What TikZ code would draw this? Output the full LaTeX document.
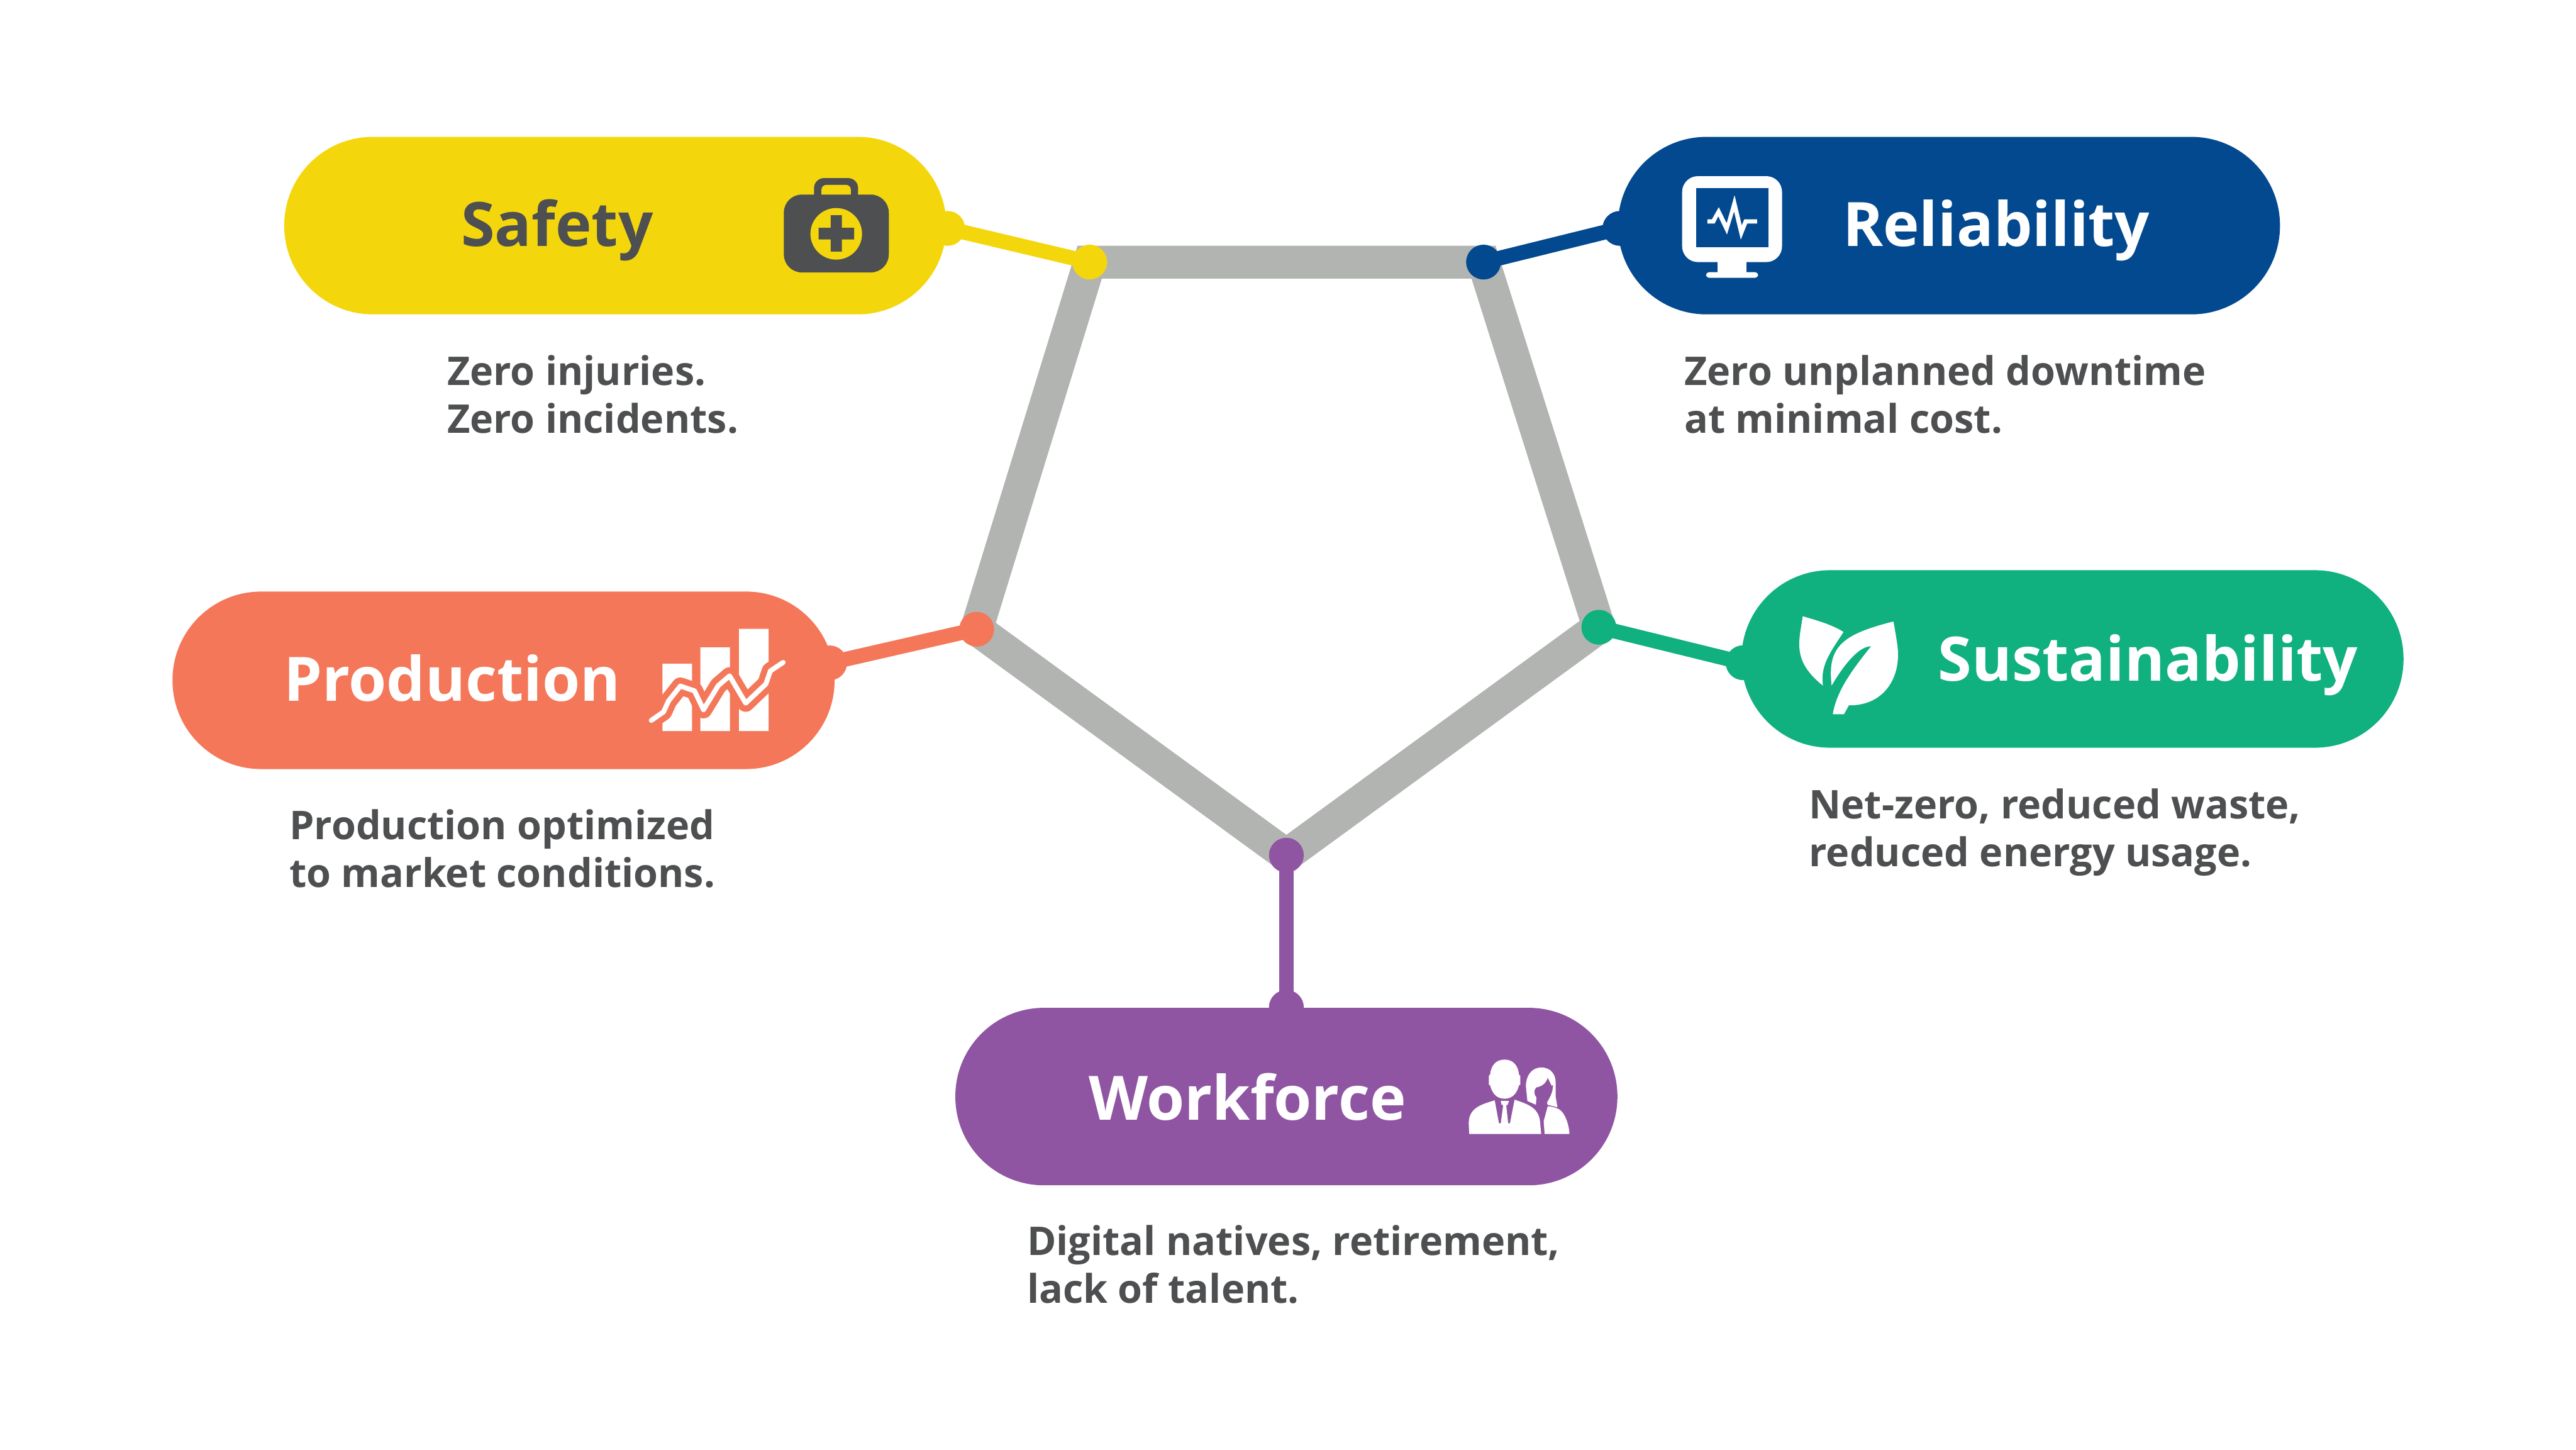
\documentclass[tikz,border=0pt]{standalone}
\usepackage{fontspec}
\setmainfont{Open Sans}
\definecolor{safety_col}{HTML}{F4D60D}
\definecolor{reliability_col}{HTML}{03498F}
\definecolor{production_col}{HTML}{F47759}
\definecolor{sustainability_col}{HTML}{10B07F}
\definecolor{workforce_col}{HTML}{9055A2}
\definecolor{frame_col}{HTML}{B2B4B2}
\definecolor{ink_col}{HTML}{4D4F50}

\begin{document}
\begin{tikzpicture}[yscale=-1,
  pill_node/.style={rectangle,rounded corners=0.539cm,minimum width=4.03cm,minimum height=1.08cm,inner sep=0},
  dot_node/.style={circle,minimum size=0.212cm,inner sep=0},
  head_node/.style={anchor=base west,inner sep=0,font=\fontsize{10.6}{12}\selectfont\bfseries},
  note_node/.style={anchor=west,inner sep=0,align=left,text=ink_col,font=\fontsize{6.85}{8.25}\selectfont\bfseries},
  link_line/.style={line width=0.09cm}]

    \useasboundingbox (0,0) rectangle (15.68,8.822);

    \node[pill_node,fill=safety_col] (safety) at (3.745,1.373) {};
    \node[pill_node,fill=reliability_col] (reliability) at (11.863,1.373) {};
    \node[pill_node,fill=production_col] (production) at (3.065,4.14) {};
    \node[pill_node,fill=sustainability_col] (sustainability) at (12.615,4.01) {};
    \node[pill_node,fill=workforce_col] (workforce) at (7.83,6.673) {};

    \node[dot_node] (v1) at (6.633,1.595) {};
    \node[dot_node] (v2) at (9.03,1.595) {};
    \node[dot_node] (v3) at (9.732,3.817) {};
    \node[dot_node] (v4) at (7.83,5.204) {};
    \node[dot_node] (v5) at (5.945,3.829) {};

    \draw[line width=0.2cm,frame_col] (v1.center) -- (v2.center) -- (v3.center) -- (v4.center) -- (v5.center) -- cycle;

    \node[dot_node] (e1) at (5.768,1.39) {};
    \node[dot_node] (e2) at (9.86,1.39) {};
    \node[dot_node] (e3) at (5.05,4.034) {};
    \node[dot_node] (e4) at (10.61,4.033) {};
    \node[dot_node] (e5) at (7.83,6.13) {};

    \draw[link_line,safety_col] (v1.center) -- (e1.center);
    \draw[link_line,reliability_col] (v2.center) -- (e2.center);
    \draw[link_line,sustainability_col] (v3.center) -- (e4.center);
    \draw[link_line,workforce_col] (v4.center) -- (e5.center);
    \draw[link_line,production_col] (v5.center) -- (e3.center);

    \fill[safety_col] (v1) circle (0.106) (e1) circle (0.106);
    \fill[reliability_col] (v2) circle (0.106) (e2) circle (0.106);
    \fill[sustainability_col] (v3) circle (0.106) (e4) circle (0.106);
    \fill[workforce_col] (v4) circle (0.106) (e5) circle (0.106);
    \fill[production_col] (v5) circle (0.106) (e3) circle (0.106);

    \node[head_node,text=ink_col] (safety_head) at (2.8,1.5) {Safety};
    \node[head_node,text=white] (reliability_head) at (11.21,1.5) {Reliability};
    \node[head_node,text=white] (production_head) at (1.72,4.265) {Production};
    \node[head_node,text=white] (sustainability_head) at (11.79,4.145) {Sustainability};
    \node[head_node,text=white] (workforce_head) at (6.62,6.816) {Workforce};

    \node[note_node] (safety_note) at (2.715,2.4) {Zero injuries.\\Zero incidents.};
    \node[note_node] (reliability_note) at (10.245,2.4) {Zero unplanned downtime\\at minimal cost.};
    \node[note_node] (production_note) at (1.755,5.165) {Production optimized\\to market conditions.};
    \node[note_node] (sustainability_note) at (11.005,5.065) {Net-zero, reduced waste,\\reduced energy usage.};
    \node[note_node] (workforce_note) at (6.245,7.695) {Digital natives, retirement,\\lack of talent.};

    % first aid kit
    \fill[ink_col,rounded corners=0.06cm] (4.955,1.3) -- (4.955,1.084) -- (5.223,1.084) -- (5.223,1.3) -- cycle;
    \fill[safety_col,rounded corners=0.03cm] (5,1.3) -- (5,1.125) -- (5.179,1.125) -- (5.179,1.3) -- cycle;
    \fill[ink_col,rounded corners=0.11cm] (4.771,1.184) rectangle (5.41,1.658);
    \fill[safety_col] (5.09,1.423) circle (0.157);
    \fill[ink_col] (5.056,1.31) rectangle (5.124,1.531) (4.983,1.386) rectangle (5.199,1.457);

    % monitor
    \fill[white,rounded corners=0.096cm] (10.239,1.072) rectangle (10.847,1.595);
    \fill[white] (10.455,1.58) rectangle (10.631,1.67);
    \fill[white,rounded corners=0.02cm] (10.384,1.691) -- (10.384,1.656) -- (10.702,1.656) -- (10.702,1.691) -- cycle;
    \fill[reliability_col] (10.324,1.145) rectangle (10.764,1.503);
    \fill[white] (10.393,1.335) -- (10.42,1.335) -- (10.462,1.261) -- (10.51,1.359) -- (10.558,1.188) -- (10.602,1.372) -- (10.617,1.335) -- (10.695,1.335) -- (10.695,1.36) -- (10.635,1.36) -- (10.596,1.458) -- (10.555,1.287) -- (10.512,1.427) -- (10.459,1.316) -- (10.437,1.36) -- (10.393,1.36) -- cycle;

    % chart
    \fill[white] (4.032,4.039) rectangle (4.212,4.449) (4.263,3.94) rectangle (4.443,4.449) (4.498,3.827) rectangle (4.678,4.449);
    \draw[production_col,line width=0.105cm,line join=round] (3.964,4.384) -- (4.039,4.332) -- (4.069,4.266) -- (4.141,4.175) -- (4.227,4.204) -- (4.282,4.319) -- (4.372,4.172) -- (4.441,4.113) -- (4.539,4.279) -- (4.662,4.162) -- (4.689,4.083) -- (4.767,4.031);
    \draw[white,line width=0.03cm,line join=round,line cap=round] (3.964,4.384) -- (4.039,4.332) -- (4.069,4.266) -- (4.141,4.175) -- (4.227,4.204) -- (4.282,4.319) -- (4.372,4.172) -- (4.441,4.113) -- (4.539,4.279) -- (4.662,4.162) -- (4.689,4.083) -- (4.767,4.031);

    % leaves
    \fill[white] (10.973,3.75) .. controls (11.055,3.775) and (11.15,3.8) .. (11.221,3.846) .. controls (11.14,3.97) and (11.078,4.05) .. (11.096,4.172) .. controls (10.98,4.08) and (10.952,4) .. (10.952,3.92) .. controls (10.952,3.86) and (10.965,3.81) .. (10.973,3.75) -- cycle;
    \fill[white] (11.525,3.782) .. controls (11.55,3.92) and (11.553,3.95) .. (11.553,3.985) .. controls (11.553,4.15) and (11.45,4.295) .. (11.254,4.292) -- (11.224,4.346) -- (11.156,4.346) .. controls (11.18,4.2) and (11.28,4.07) .. (11.389,3.933) .. controls (11.3,3.93) and (11.19,4.1) .. (11.149,4.172) .. controls (11.12,3.93) and (11.22,3.86) .. (11.525,3.782) -- cycle;

    % people
    \fill[white] (9.158,6.448) .. controls (9.105,6.448) and (9.075,6.485) .. (9.07,6.54) -- (9.062,6.546) -- (9.062,6.6) -- (9.07,6.605) .. controls (9.08,6.64) and (9.1,6.686) .. (9.158,6.686) .. controls (9.216,6.686) and (9.236,6.64) .. (9.246,6.605) -- (9.254,6.6) -- (9.254,6.546) -- (9.246,6.54) .. controls (9.241,6.485) and (9.211,6.448) .. (9.158,6.448) -- cycle;
    \fill[white] (8.943,6.901) -- (8.94,6.836) .. controls (8.94,6.74) and (9.02,6.72) .. (9.098,6.696) -- (9.124,6.836) -- (9.135,6.836) -- (9.15,6.725) -- (9.14,6.723) -- (9.135,6.7) -- (9.185,6.7) -- (9.176,6.725) -- (9.168,6.725) -- (9.18,6.836) -- (9.191,6.836) -- (9.219,6.692) .. controls (9.3,6.72) and (9.37,6.74) .. (9.375,6.836) -- (9.381,6.901) -- cycle;
    \fill[white] (9.297,6.7) -- (9.288,6.61) .. controls (9.288,6.55) and (9.32,6.496) .. (9.382,6.496) .. controls (9.44,6.496) and (9.469,6.54) .. (9.469,6.586) -- (9.469,6.673) -- (9.48,6.738) -- (9.42,6.723) -- (9.417,6.708) .. controls (9.44,6.67) and (9.453,6.64) .. (9.453,6.604) -- (9.444,6.606) -- (9.421,6.558) .. controls (9.41,6.59) and (9.39,6.61) .. (9.352,6.617) .. controls (9.335,6.63) and (9.335,6.66) .. (9.352,6.679) -- (9.349,6.723) -- cycle;
    \fill[white] (9.421,6.732) .. controls (9.46,6.735) and (9.48,6.745) .. (9.495,6.754) .. controls (9.525,6.775) and (9.55,6.84) .. (9.553,6.901) -- (9.402,6.901) -- (9.396,6.823) -- cycle;

\end{tikzpicture}
\end{document}
